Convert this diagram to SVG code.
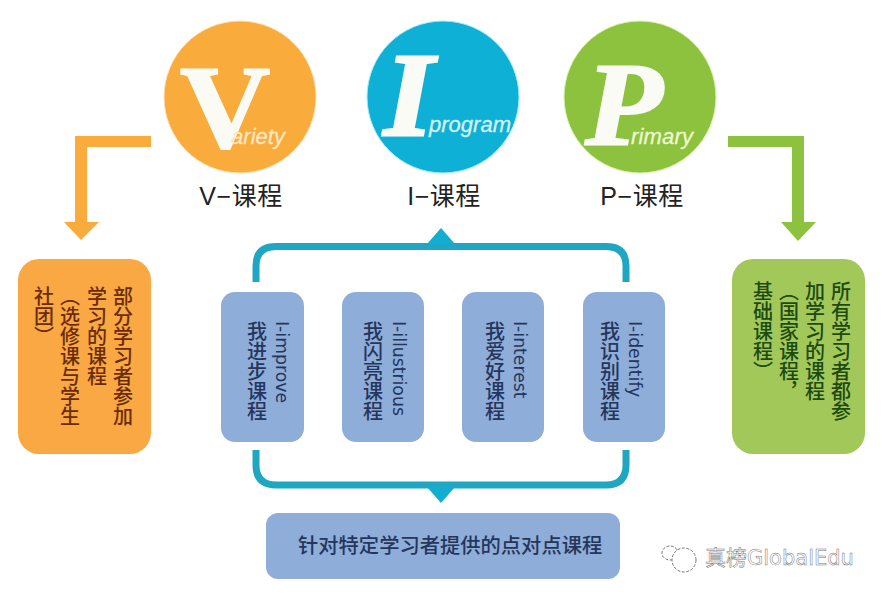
<svg xmlns="http://www.w3.org/2000/svg" width="882" height="596" viewBox="0 0 882 596">
<style>
text{font-family:"Noto Sans CJK SC","Liberation Sans",sans-serif}
.cap{font-family:"Liberation Sans","Noto Sans CJK SC",sans-serif;font-size:25px;fill:#222;text-anchor:middle;letter-spacing:.5px}
.big{font-family:"Liberation Serif",serif;font-weight:700;fill:#fbfbf6;stroke:#fbfbf6;stroke-width:2}
.sub{font-family:"Liberation Sans",sans-serif;font-style:italic;font-size:22px;stroke-width:.3}
.v{writing-mode:vertical-rl;font-size:20px;font-weight:500}
.lat{writing-mode:vertical-rl;font-family:"DejaVu Sans",sans-serif;font-size:17.300px;fill:#24365c}
.blue{fill:#8fadd9}
.cn{fill:#24365c}
.or{fill:#6a2c08}
.gr{fill:#1d4a10}
.br{fill:none;stroke:#1ea6c2;stroke-width:7}
.wm{font-size:21px;fill:#fff;stroke:#777;stroke-width:.5}
</style>
<rect width="882" height="596" fill="#fff"/>
<g id="connectors">
<path d="M151 136V147H87V222H99L81 240L64 222H75V136Z" fill="#f9ab3c"/>
<path d="M728 136H804V222H816L798 241L781 222H792V147H728Z" fill="#8dc23f"/>
<path class="br" d="M256 282V266Q256 246.500 276 246.500H606Q626 246.500 626 266V282"/>
<path d="M427 244L441 228L455 244Z" fill="#12aed2"/>
<path class="br" d="M256 450V465Q256 485 276 485H606Q626 485 626 465V450"/>
<path d="M427 487H455L441 503Z" fill="#12aed2"/>
</g>
<g id="node-v">
<circle cx="240" cy="97" r="76" fill="#f9ab3c" stroke="#fde3b8" stroke-width="1"/>
<text class="big" transform="translate(180 147) scale(1.060 1)" font-size="118">V</text>
<text class="sub" x="231" y="144" fill="#fbe7c3" stroke="#fbe7c3" textLength="54">ariety</text>
<text class="cap" x="241" y="205">V−课程</text>
</g>
<g id="node-i">
<circle cx="443" cy="97" r="76" fill="#0fb0d5" stroke="#a5effa" stroke-width="1"/>
<text class="big" transform="translate(384 135) scale(1.080 1)" font-size="118" font-style="italic" style="stroke-width:3">I</text>
<text class="sub" x="429" y="132" fill="#d6f3f8" stroke="#d6f3f8" textLength="82">program</text>
<text class="cap" x="444" y="205">I−课程</text>
</g>
<g id="node-p">
<circle cx="640" cy="97" r="76" fill="#8dc23f" stroke="#dcf3b0" stroke-width="1"/>
<text class="big" transform="translate(585 145) scale(1.080 1)" font-size="118" font-style="italic">P</text>
<text class="sub" x="631" y="144" fill="#eef8cf" stroke="#eef8cf" textLength="62">rimary</text>
<text class="cap" x="642" y="205">P−课程</text>
</g>
<g id="node-left">
<rect x="18" y="259" width="133" height="195" rx="21" fill="#f9a843"/>
<text class="v or" x="123" y="286">部分学习者参加</text>
<text class="v or" x="97" y="286">学习的课程</text>
<text class="v or" x="70" y="286">（选修课与学生</text>
<text class="v or" x="44" y="286">社团）</text>
</g>
<g id="node-right">
<rect x="732" y="259" width="133" height="195" rx="21" fill="#a2c85a"/>
<text class="v gr" x="841" y="281">所有学习者都参</text>
<text class="v gr" x="815" y="281">加学习的课程</text>
<text class="v gr" x="789" y="281">（国家课程，</text>
<text class="v gr" x="763" y="281">基础课程）</text>
</g>
<g id="node-improve">
<rect class="blue" x="221" y="292" width="83" height="150" rx="14"/>
<text class="lat" x="282" y="321">I-improve</text>
<text class="v cn" x="257" y="321">我进步课程</text>
</g>
<g id="node-illustrious">
<rect class="blue" x="342" y="292" width="82" height="150" rx="14"/>
<text class="lat" x="399" y="321">I-illustrious</text>
<text class="v cn" x="373" y="321">我闪亮课程</text>
</g>
<g id="node-interest">
<rect class="blue" x="462" y="292" width="82" height="150" rx="14"/>
<text class="lat" x="520" y="321">I-interest</text>
<text class="v cn" x="495" y="321">我爱好课程</text>
</g>
<g id="node-identify">
<rect class="blue" x="583" y="292" width="82" height="150" rx="14"/>
<text class="lat" x="635" y="321">I-identify</text>
<text class="v cn" x="610" y="321">我识别课程</text>
</g>
<g id="node-bottom">
<rect class="blue" x="266" y="513" width="354" height="66" rx="12"/>
<text class="cn" x="298" y="553" font-size="20.300" font-weight="500">针对特定学习者提供的点对点课程</text>
</g>
<g id="watermark">
<g fill="#fff" stroke="#777" stroke-width="1" stroke-dasharray="3 1.500">
<ellipse cx="670" cy="553" rx="8" ry="7"/>
<ellipse cx="684" cy="560" rx="12" ry="12"/>
</g>
<text class="wm" x="705" y="565">真榜<tspan font-family="DejaVu Sans,sans-serif" style="font-family:'DejaVu Sans',sans-serif">GlobalEdu</tspan></text>
</g>
</svg>
